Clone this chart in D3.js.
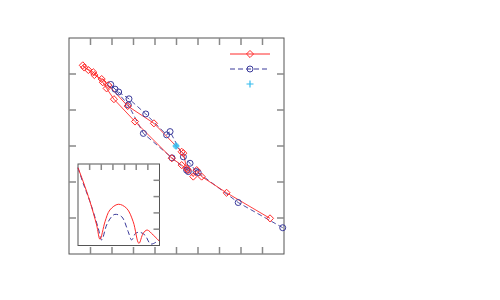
<!DOCTYPE html>
<html>
<head>
<meta charset="utf-8">
<script src="https://cdn.jsdelivr.net/npm/d3@7"></script>
<style>
    body { margin: 0; background: white; }
    svg { display: block; }
</style>
</head>
<body>
<svg width="500" height="300"></svg>
<script>
// main panel, both series are paths through (x, y)
var redX = [9.35, 7.33, 6.17, 5.94, 5.78, 5.47, 5.32, 5.24, 3.95, 2.73, 1.83, 1.52, 1.18, 0.90, 0.64,
            0.71, 1.13, 1.57, 1.75, 2.09, 3.07, 4.78, 5.24, 5.53]
var redY = [0.99, 1.70, 2.15, 2.33, 2.15, 2.38, 2.80, 2.84, 3.63, 4.11, 4.69, 4.86, 4.97, 5.11, 5.24,
            5.18, 5.05, 4.77, 4.60, 4.30, 3.68, 2.66, 2.47, 2.33]

var blueX = [9.94, 7.87, 6.01, 5.91, 5.63, 5.32, 4.70, 4.54, 3.57, 2.79, 2.31, 2.14, 1.94,
             2.76, 3.46, 4.79, 5.47, 5.55]
var blueY = [0.73, 1.43, 2.26, 2.29, 2.52, 2.70, 3.40, 3.31, 3.89, 4.31, 4.50, 4.58, 4.71,
             4.14, 3.35, 2.67, 2.33, 2.29]

var cyanX = [4.98]
var cyanY = [3.00]

var mainXTicks = [1, 2, 3, 4, 5, 6, 7, 8, 9]
var mainYTicks = [1, 2, 3, 4, 5]

// inset panel
var insetRedX = [0, 0.45, 1.03, 1.60, 1.89, 2.32, 2.74, 3.46, 4.18, 4.74, 5.23, 5.60, 5.94, 6.46, 6.97]
var insetRedY = [4.77, 3.91, 2.69, 1.26, 0.38, 1.46, 2.18, 2.53, 2.28, 1.46, 0.13, 0.75, 0.95, 0.64, 0.28]

var insetBlueX = [0, 0.45, 1.03, 1.74, 2.03, 2.46, 2.89, 3.17, 3.75, 4.31, 4.61, 4.95, 5.32, 5.75, 6.26, 6.97]
var insetBlueY = [4.77, 3.81, 2.69, 1.06, 0.34, 1.26, 1.77, 1.91, 1.77, 0.85, 0.34, 0.75, 0.81, 0.64, 0.09, 0.34]

var insetXTicks = [1, 2, 3, 4, 5, 6]
var insetYTicks = [1, 2, 3, 4]

var RED = '#ff2a2a',
    BLUE = '#3a3a9a',
    CYAN = '#33bbee',
    FRAME = '#555',
    TICK = '#888'

var svg = d3.select('svg')

function zip(xs, ys) {
    return xs.map((d, i) => [d, ys[i]])
}

function panel(x0, y0, w, h, xDom, yDom, xt, yt, sides, tickLen) {
    var x = d3.scaleLinear().domain(xDom).range([x0, x0 + w])
    var y = d3.scaleLinear().domain(yDom).range([y0 + h, y0])
    var g = svg.append('g')

    g.append('rect')
        .attr('x', x0)
        .attr('y', y0)
        .attr('width', w)
        .attr('height', h)
        .style('fill', 'white')
        .style('stroke', FRAME)
        .style('stroke-width', 1)

    var ticks = g.append('g')
        .style('stroke', TICK)
        .style('stroke-width', 1.5)

    if (sides.top) ticks.selectAll('.tt').data(xt).enter().append('line')
        .attr('x1', d => x(d)).attr('x2', d => x(d))
        .attr('y1', y0).attr('y2', y0 + tickLen)
    if (sides.bottom) ticks.selectAll('.tb').data(xt).enter().append('line')
        .attr('x1', d => x(d)).attr('x2', d => x(d))
        .attr('y1', y0 + h).attr('y2', y0 + h - tickLen)
    if (sides.left) ticks.selectAll('.tl').data(yt).enter().append('line')
        .attr('y1', d => y(d)).attr('y2', d => y(d))
        .attr('x1', x0).attr('x2', x0 + tickLen)
    if (sides.right) ticks.selectAll('.tr').data(yt).enter().append('line')
        .attr('y1', d => y(d)).attr('y2', d => y(d))
        .attr('x1', x0 + w).attr('x2', x0 + w - tickLen)

    return { g: g, x: x, y: y }
}

// main plot
var main = panel(69, 38, 215, 216, [0, 10], [0, 6], mainXTicks, mainYTicks,
    { top: true, bottom: true, left: true, right: true }, 7)

var line = d3.line().x(d => main.x(d[0])).y(d => main.y(d[1]))

var redPts = zip(redX, redY),
    bluePts = zip(blueX, blueY)

main.g.append('path')
    .attr('d', line(bluePts))
    .style('fill', 'none')
    .style('stroke', BLUE)
    .style('stroke-width', 0.9)
    .style('stroke-dasharray', '5,3')

main.g.append('path')
    .attr('d', line(redPts))
    .style('fill', 'none')
    .style('stroke', RED)
    .style('stroke-width', 0.9)

var diamond = d3.symbol().type(d3.symbolDiamond2).size(32)

function redMarker(sel) {
    sel.append('path')
        .attr('d', diamond)
        .style('fill', 'none')
        .style('stroke', RED)
        .style('stroke-width', 1)
        .style('stroke-linejoin', 'round')
}

function blueMarker(sel) {
    sel.append('circle')
        .attr('r', 3)
        .style('fill', 'none')
        .style('stroke', BLUE)
        .style('stroke-width', 1)
}

function cyanMarker(sel) {
    sel.append('path')
        .attr('d', 'M-3.5,0H3.5M0,-3.5V3.5')
        .style('stroke', CYAN)
        .style('stroke-width', 1.2)
}

main.g.selectAll('.bm').data(bluePts).enter().append('g')
    .attr('transform', d => 'translate(' + main.x(d[0]) + ',' + main.y(d[1]) + ')')
    .call(blueMarker)

main.g.selectAll('.rm').data(redPts).enter().append('g')
    .attr('transform', d => 'translate(' + main.x(d[0]) + ',' + main.y(d[1]) + ')')
    .call(redMarker)

main.g.selectAll('.cm').data(zip(cyanX, cyanY)).enter().append('g')
    .attr('transform', d => 'translate(' + main.x(d[0]) + ',' + main.y(d[1]) + ')')
    .call(d => {
        d.append('circle').attr('r', 3).style('fill', CYAN).style('opacity', 0.7)
        cyanMarker(d)
    })

// legend, top right, no text
var legend = svg.append('g').attr('transform', 'translate(230,54)')
var lx = d3.scaleLinear().domain([0, 1]).range([0, 40])

legend.append('line')
    .attr('x1', lx(0)).attr('x2', lx(1)).attr('y1', 0).attr('y2', 0)
    .style('stroke', RED).style('stroke-width', 1)
legend.append('g').attr('transform', 'translate(' + lx(0.5) + ',0)').call(redMarker)

legend.append('line')
    .attr('x1', lx(0)).attr('x2', lx(1)).attr('y1', 15).attr('y2', 15)
    .style('stroke', BLUE).style('stroke-width', 1).style('stroke-dasharray', '5,3')
legend.append('g').attr('transform', 'translate(' + lx(0.5) + ',15)').call(blueMarker)

legend.append('g').attr('transform', 'translate(' + lx(0.5) + ',30)').call(cyanMarker)

// inset
var inset = panel(78, 164, 81.5, 81.5, [0, 7], [0, 5], insetXTicks, insetYTicks,
    { top: true, right: true }, 6)

var iline = d3.line()
    .x(d => inset.x(d[0]))
    .y(d => inset.y(d[1]))
    .curve(d3.curveCatmullRom.alpha(0.5))

inset.g.append('path')
    .attr('d', iline(zip(insetBlueX, insetBlueY)))
    .style('fill', 'none')
    .style('stroke', BLUE)
    .style('stroke-width', 1)
    .style('stroke-dasharray', '5,3')

inset.g.append('path')
    .attr('d', iline(zip(insetRedX, insetRedY)))
    .style('fill', 'none')
    .style('stroke', RED)
    .style('stroke-width', 1)
</script>
</body>
</html>
